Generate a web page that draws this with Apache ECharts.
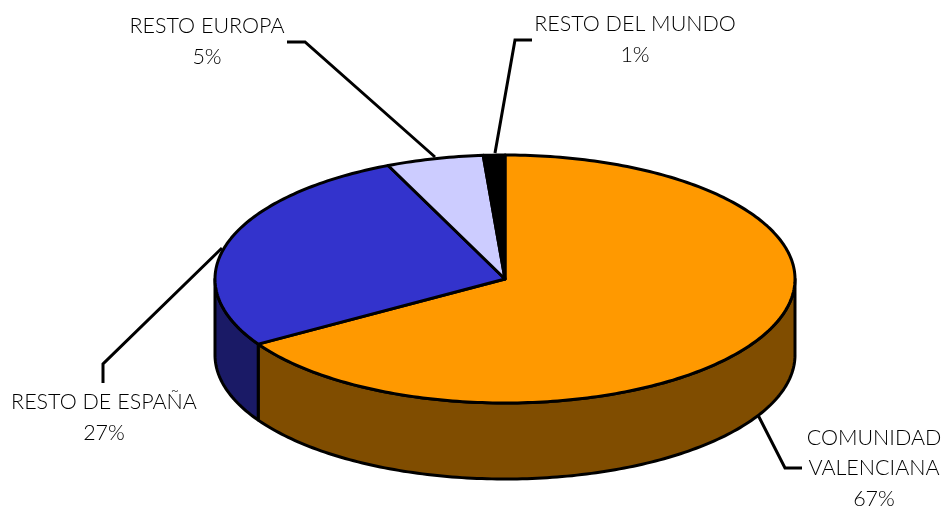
<!DOCTYPE html>
<html>
<head>
<meta charset="utf-8">
<style>
html, body { margin: 0; padding: 0; background: #fff; }
#main { width: 951px; height: 510px; }
</style>
<script src="https://cdn.jsdelivr.net/npm/echarts@6/dist/echarts.min.js"></script>
</head>
<body>
<div id="main"></div>
<script>
// datos del grafico
var categories = ['COMUNIDAD VALENCIANA', 'RESTO DE ESPAÑA', 'RESTO EUROPA', 'RESTO DEL MUNDO'];
var shares = [66.2, 27.2, 5.4, 1.2];
var percentLabels = ['67%', '27%', '5%', '1%'];
var topColors = ['#FF9900', '#3333CC', '#CCCCFF', '#000000'];
var sideColors = ['#804D00', '#1A1A66', '#666680', '#000000'];

// tarta
var cx = 505, cy = 279, rx = 290, ry = 124, depth = 76;
var outline = { stroke: '#000', lineWidth: 3, lineJoin: 'round' };
var fontStr = '300 21.5px Lato, sans-serif';

function pointAt(angle, dy) {
	var a = angle * Math.PI / 180;
	return [cx + rx * Math.sin(a), cy - ry * Math.cos(a) + (dy || 0)];
}

function arcPoints(from, to, dy) {
	var pts = [];
	var n = Math.max(2, Math.ceil(Math.abs(to - from)));
	for (var i = 0; i <= n; i++) {
		pts.push(pointAt(from + (to - from) * i / n, dy));
	}
	return pts;
}

// angulos acumulados de cada sector
var total = shares.reduce(function (s, v) { return s + v; }, 0);
var sliceData = [];
var acc = 0;
for (var i = 0; i < shares.length; i++) {
	var start = acc / total * 360;
	acc += shares[i];
	sliceData.push({ name: categories[i], value: [start, acc / total * 360, i] });
}

function renderSlice(params, api) {
	var start = api.value(0), end = api.value(1), idx = api.value(2);
	var children = [];
	// pared lateral, solo la mitad delantera
	var from = Math.max(start, 90), to = Math.min(end, 270);
	if (to > from) {
		var wall = arcPoints(from, to, 0).concat(arcPoints(to, from, depth));
		children.push({
			type: 'polygon',
			shape: { points: wall },
			style: Object.assign({ fill: sideColors[idx] }, outline)
		});
	}
	var top = [[cx, cy]].concat(arcPoints(start, end, 0));
	children.push({
		type: 'polygon',
		shape: { points: top },
		style: Object.assign({ fill: topColors[idx] }, outline)
	});
	return { type: 'group', children: children };
}

// lineas guia y etiquetas
var leaders = [
	[[758, 415], [785, 468], [802, 468]],
	[[103, 383], [103, 364], [222, 248]],
	[[287, 42], [305, 42], [435, 157]],
	[[532, 40], [515, 40], [495, 153]]
];
var labelLines = [
	[['COMUNIDAD', 874, 438], ['VALENCIANA', 874, 468], [percentLabels[0], 874, 499]],
	[['RESTO DE ESPAÑA', 104, 402], [percentLabels[1], 104, 433]],
	[['RESTO EUROPA', 207, 26], [percentLabels[2], 207, 57]],
	[['RESTO DEL MUNDO', 635, 24], [percentLabels[3], 635, 55]]
];

var graphics = [];
leaders.forEach(function (pts) {
	graphics.push({
		type: 'polyline',
		z: 10,
		shape: { points: pts },
		style: { stroke: '#000', lineWidth: 3, fill: null }
	});
});
labelLines.forEach(function (lines) {
	lines.forEach(function (l) {
		graphics.push({
			type: 'text',
			z: 10,
			x: l[1],
			y: l[2],
			style: {
				text: l[0],
				font: fontStr,
				fill: '#000',
				align: 'center',
				verticalAlign: 'middle'
			}
		});
	});
});

var myChart = echarts.init(document.getElementById('main'));
var option = {
	backgroundColor: '#fff',
	animation: false,
	graphic: graphics,
	series: [{
		type: 'custom',
		coordinateSystem: 'none',
		renderItem: renderSlice,
		data: sliceData
	}]
};
myChart.setOption(option);
</script>
</body>
</html>
